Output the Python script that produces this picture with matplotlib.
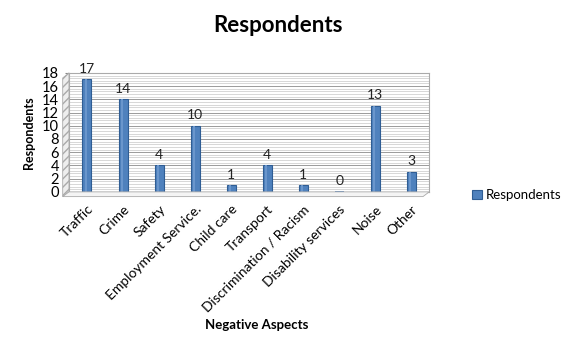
import matplotlib
matplotlib.use("Agg")
import matplotlib.pyplot as plt
from matplotlib.patches import Polygon

plt.rcParams['font.family'] = ['Lato', 'DejaVu Sans']

CATEGORIES = ["Traffic", "Crime", "Safety", "Employment Service.", "Child care",
              "Transport", "Discrimination / Racism", "Disability services",
              "Noise", "Other"]
RESPONDENTS = [17, 14, 4, 10, 1, 4, 1, 0, 13, 3]
YTICKS = [0, 2, 4, 6, 8, 10, 12, 14, 16, 18]

fig = plt.figure(figsize=(5.7, 3.39), dpi=100)
ax = fig.add_axes([0.121, 0.434, 0.632, 0.351])

x = range(len(CATEGORIES))
bars = ax.bar(x, RESPONDENTS, width=0.25, color="#4f81bd",
              edgecolor="#2f5d94", linewidth=0.8, label="Respondents", zorder=3)
# slightly lighter strip to hint at the cylinder shading
ax.bar([xi - 0.03 for xi in x], RESPONDENTS, width=0.07, color="#6a96cc",
       linewidth=0, zorder=4)
# the zero bar still shows as a flat disc
ax.bar([7], [0.2], width=0.25, color="#4f81bd", linewidth=0, zorder=3)

for xi, v in zip(x, RESPONDENTS):
    ax.text(xi, v + 0.7, str(v), ha="center", va="bottom", fontsize=10, color="#222222")

ax.set_xlim(-0.5, len(CATEGORIES) - 0.5)
ax.set_ylim(0, 18)
ax.set_yticks(YTICKS)
ax.set_yticks([i * 0.4 for i in range(46)], minor=True)
ax.grid(axis="y", which="major", color="#9a9a9a", linewidth=0.7, zorder=0)
ax.grid(axis="y", which="minor", color="#c8c8c8", linewidth=0.5, zorder=0)
ax.tick_params(axis="y", which="minor", length=0)
ax.tick_params(axis="y", which="major", length=3, labelsize=10.5, color="#888888", pad=4)
ax.tick_params(axis="x", length=0, labelsize=10, pad=8)
ax.set_xticks(list(x))
ax.set_xticklabels(CATEGORIES, rotation=45, ha="right", rotation_mode="anchor")
for s in ax.spines.values():
    s.set_color("#aaaaaa")
    s.set_linewidth(0.8)

# side wall and floor of the 3D look
fig.add_artist(Polygon([[0.121, 0.434], [0.110, 0.420], [0.110, 0.770], [0.121, 0.785]],
                       closed=True, transform=fig.transFigure, facecolor="#eeeeee",
                       edgecolor="#aaaaaa", hatch="////", linewidth=0.6))
fig.add_artist(Polygon([[0.121, 0.434], [0.753, 0.434], [0.742, 0.420], [0.110, 0.420]],
                       closed=True, transform=fig.transFigure, facecolor="#f4f4f4",
                       edgecolor="#aaaaaa", linewidth=0.6))

ax.set_ylabel("Respondents", fontsize=9, fontweight="bold", labelpad=5)
ax.set_xlabel("Negative Aspects", fontsize=9.5, fontweight="bold")
ax.xaxis.set_label_coords(0.52, -1.07)

fig.suptitle("Respondents", fontsize=16, fontweight="bold", x=0.488, y=0.955)

fig.legend(handles=[bars], labels=["Respondents"], loc="center left",
           bbox_to_anchor=(0.808, 0.424), frameon=False, fontsize=9.5,
           handlelength=0.7, handleheight=0.7, handletextpad=0.3)

fig.savefig("out.png", dpi=100)
